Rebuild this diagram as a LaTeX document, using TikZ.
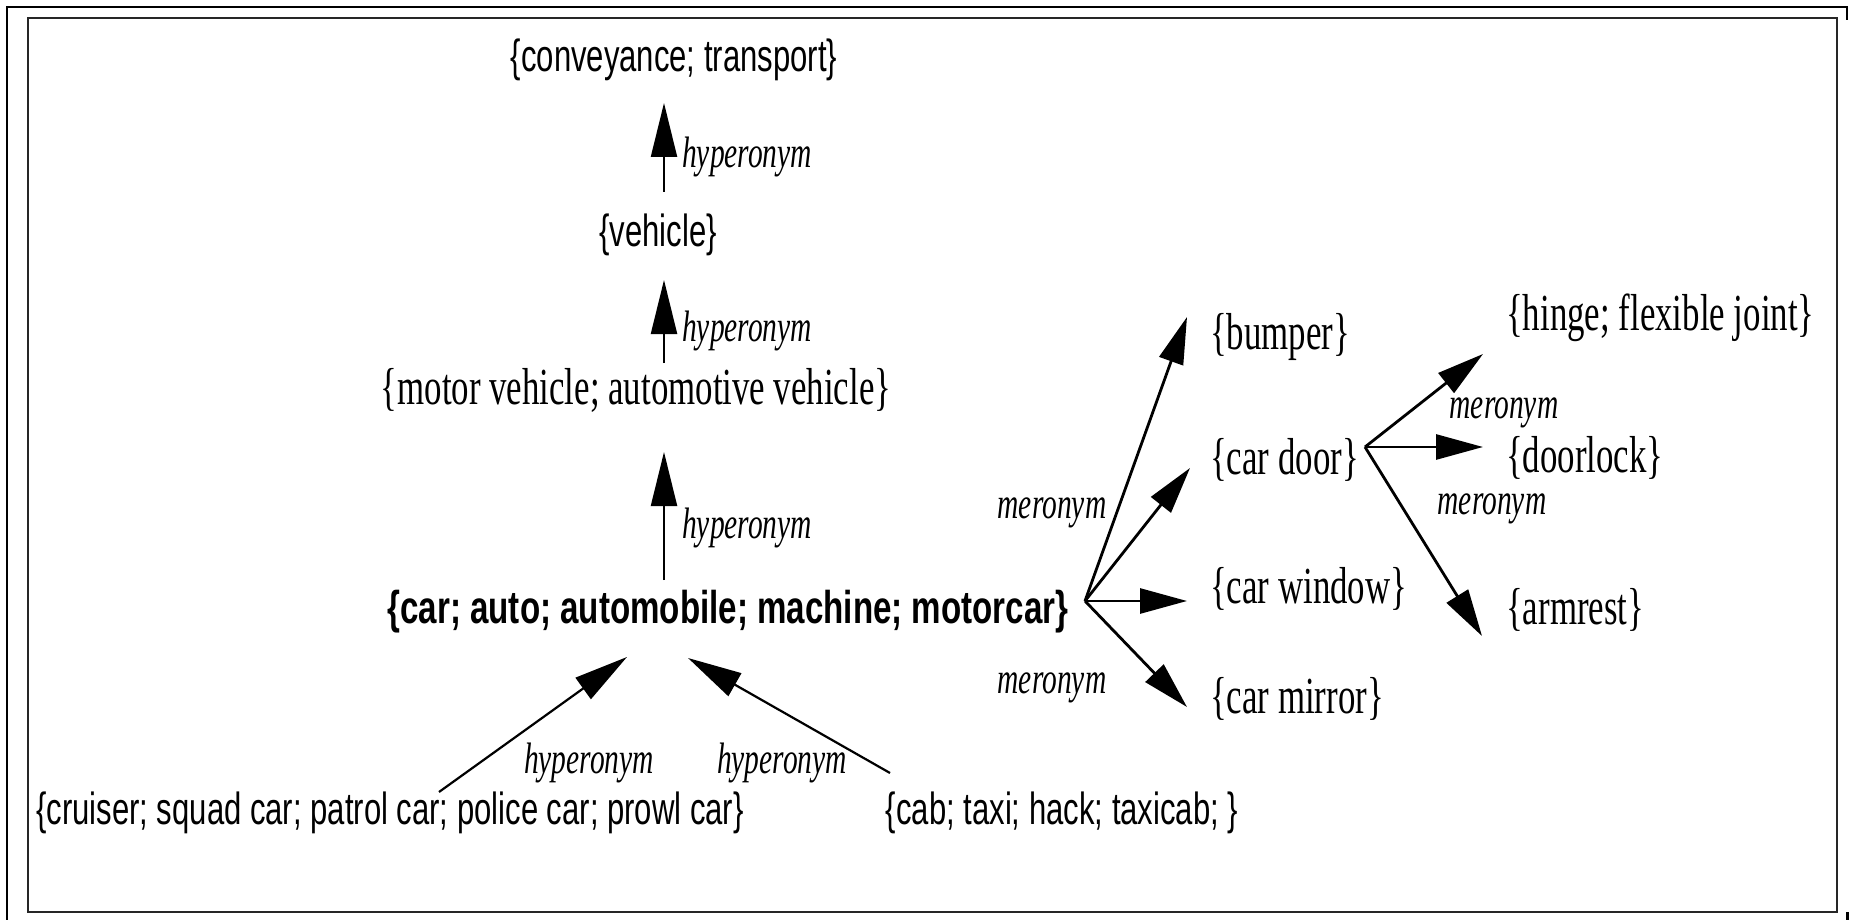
\documentclass[tikz,border=0pt]{standalone}
\usepackage{fontspec}
\setmainfont{Liberation Serif}[FakeStretch=0.67]
\newfontfamily\arialn{Liberation Sans}[FakeStretch=0.69]
\newfontfamily\arialb{Liberation Sans}[FakeStretch=0.72]
\usetikzlibrary{arrows.meta,calc}

\begin{document}
\begin{tikzpicture}[x=1pt,y=-1pt,
  syn/.style={inner sep=0pt,text height=37pt,text depth=11pt,font=\fontsize{52}{56}\selectfont},
  synsf/.style={inner sep=0pt,text height=34pt,text depth=10pt,font=\arialn\fontsize{45}{50}\selectfont},
  synbf/.style={synsf,font=\arialb\bfseries\fontsize{46}{50}\selectfont},
  rel/.style={inner sep=0pt,text height=32pt,text depth=10pt,font=\itshape\fontsize{44}{48}\selectfont},
  hyp/.style={line width=2.2pt,-{Triangle[length=54pt,width=26pt]}},
  mer/.style={line width=2.8pt,-{Triangle[length=47pt,width=25pt]}}]
  \useasboundingbox (0,0) rectangle (1856,920);

  % marco
  \draw[line width=2.2pt] (7,920) -- (7,7) -- (1847,7) -- (1847,20);
  \draw[line width=3pt] (1847,912) -- (1847,920);
  \draw[line width=1.5pt,black!85] (28,18) rectangle (1837,912);

  % hiperonimos
  \node[synsf] (conv) at (674,60) {\{conveyance; transport\}};
  \node[synsf] (veh) at (658,235) {\{vehicle\}};
  \node[syn] (motor) at (636,391) {\{motor vehicle; automotive vehicle\}};
  \node[synbf] (car) at (728,611) {\{car; auto; automobile; machine; motorcar\}};

  % hiponimos
  \node[synsf] (cruiser) at (390,812) {\{cruiser; squad car; patrol car; police car; prowl car\}};
  \node[synsf] (cab) at (1062,812) {\{cab; taxi; hack; taxicab; \}};

  % meronimos
  \node[syn,anchor=west] (bumper) at (1210,336) {\{bumper\}};
  \node[syn,anchor=west] (door) at (1210,461) {\{car door\}};
  \node[syn,anchor=west] (window) at (1210,590) {\{car window\}};
  \node[syn,anchor=west] (mirror) at (1210,700) {\{car mirror\}};
  \node[syn,anchor=west] (hinge) at (1506,317) {\{hinge; flexible joint\}};
  \node[syn,anchor=west] (lock) at (1506,459) {\{doorlock\}};
  \node[syn,anchor=west] (armrest) at (1506,611) {\{armrest\}};

  % flechas hyperonym
  \draw[hyp] ($(veh)+(6,-43)$) -- ($(conv)+(-10,43)$);
  \draw[hyp] ($(motor)+(28,-28)$) -- ($(veh)+(6,45)$);
  \draw[hyp] ($(car)+(-64,-31)$) -- ($(motor)+(28,61)$);
  \draw[hyp] ($(cruiser)+(49,-20)$) -- ($(car)+(-101,46)$);
  \draw[hyp] ($(cab)+(-172,-39)$) -- ($(car)+(-40,47)$);

  % flechas meronym
  \coordinate (cj) at ($(car)+(357,-10)$);
  \coordinate (dj) at ($(door.west)+(155,-14)$);
  \draw[mer] (cj) -- ($(bumper.west)+(-23,-19)$);
  \draw[mer] (cj) -- ($(door.west)+(-20,7)$);
  \draw[mer] (cj) -- ($(window.west)+(-23,11)$);
  \draw[mer] (cj) -- ($(mirror.west)+(-23,7)$);
  \draw[mer] (dj) -- ($(hinge.west)+(-23,37)$);
  \draw[mer] (dj) -- ($(lock.west)+(-23,-12)$);
  \draw[mer] (dj) -- ($(armrest.west)+(-24,25)$);

  % etiquetas
  \node[rel,anchor=west] (h1) at (682,157) {hyperonym};
  \node[rel,anchor=west] (h2) at (682,330) {hyperonym};
  \node[rel,anchor=west] (h3) at (682,527) {hyperonym};
  \node[rel] (h4) at (589,762) {hyperonym};
  \node[rel] (h5) at (782,762) {hyperonym};
  \node[rel] (m1) at (1052,507) {meronym};
  \node[rel] (m2) at (1052,682) {meronym};
  \node[rel] (m3) at (1504,407) {meronym};
  \node[rel] (m4) at (1492,503) {meronym};
\end{tikzpicture}
\end{document}
